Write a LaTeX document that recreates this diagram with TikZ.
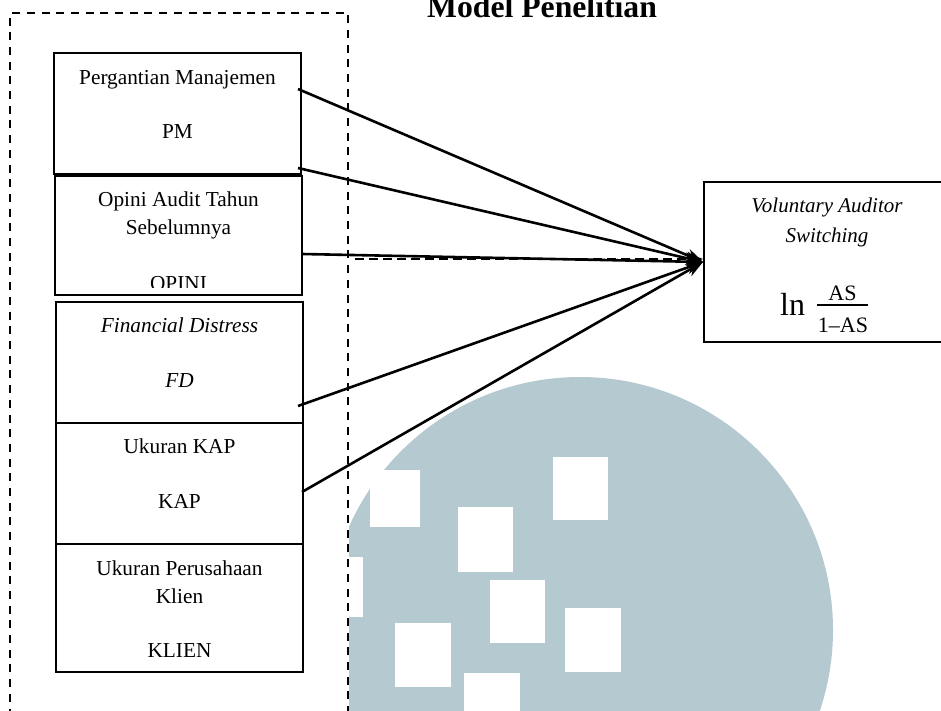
\documentclass[tikz,border=0pt]{standalone}
\usepackage{fontspec}
\setmainfont{Liberation Serif}
\usetikzlibrary{arrows.meta,calc}
\definecolor{wm}{RGB}{181,201,209}
\begin{document}
\begin{tikzpicture}[x=1pt,y=-1pt,
  txt/.style={font=\fontsize{21.3}{27}\selectfont, inner sep=0pt, anchor=base},
  itxt/.style={txt, font=\fontsize{21.3}{27}\selectfont\itshape},
  vtxt/.style={txt, font=\fontsize{21}{27}\selectfont\itshape},
  ftxt/.style={txt, font=\fontsize{22}{27}\selectfont},
  varbox/.style={draw, line width=2pt, minimum width=247pt, inner sep=0pt},
  grpbox/.style={draw, dash pattern=on 8pt off 6.7pt, line width=1.8pt, inner sep=0pt},
  conn/.style={line width=2.6pt, -{Stealth[length=17pt,width=13pt]}},
  dconn/.style={line width=2.4pt, dash pattern=on 9pt off 5pt, -{Stealth[length=17pt,width=13pt]}},
]
\useasboundingbox (0,0) rectangle (941,711);
% watermark
\begin{scope}
  \clip (349,0) rectangle (941,711);
  \fill[wm] (580,630) circle[radius=253];
\end{scope}
\fill[white] (370,470) rectangle (420,527);
\fill[white] (349,557) rectangle (363,617);
\fill[white] (553,457) rectangle (608,520);
\fill[white] (458,507) rectangle (513,572);
\fill[white] (490,580) rectangle (545,643);
\fill[white] (565,608) rectangle (621,672);
\fill[white] (395,623) rectangle (451,687);
\fill[white] (464,673) rectangle (520,720);
% title
\node[txt, font=\fontsize{31.7}{36}\selectfont\bfseries] (title) at (542,18) {Model Penelitian};
% group frame
\node[grpbox, minimum width=338pt, minimum height=760pt] (grp) at (179,393) {};
% variable boxes
\node[varbox, minimum height=121pt] (pm) at (177.5,113.5) {};
\node[varbox, minimum height=119pt] (opini) at (178.5,235.5) {};
\node[varbox, minimum height=121pt] (fd) at (179.5,362.5) {};
\node[varbox, minimum height=121pt] (kap) at (179.5,483.5) {};
\node[varbox, minimum height=128pt] (klien) at (179.5,608) {};
\node[varbox, minimum width=246pt, minimum height=160pt] (vas) at (827,262) {};
% texts
\node[txt] (t1a) at (177.5,85) {Pergantian Manajemen};
\node[txt] (t1b) at (177.5,139) {PM};
\node[txt] (t2a) at (178.5,207) {Opini Audit Tahun};
\node[txt] (t2b) at (178.5,234) {Sebelumnya};
\begin{scope}
  \clip (56,177) rectangle (301,287);
  \node[txt] (t2c) at (178.5,290) {OPINI};
\end{scope}
\node[itxt] (t3a) at (179.5,332) {Financial Distress};
\node[itxt] (t3b) at (179.5,387) {FD};
\node[txt] (t4a) at (179.5,453) {Ukuran KAP};
\node[txt] (t4b) at (179.5,508) {KAP};
\node[txt] (t5a) at (179.5,575) {Ukuran Perusahaan};
\node[txt] (t5b) at (179.5,603) {Klien};
\node[txt] (t5c) at (179.5,657) {KLIEN};
\node[vtxt] (t6a) at (827,212) {Voluntary Auditor};
\node[vtxt] (t6b) at (827,243) {Switching};
\node[txt, anchor=base west, font=\fontsize{32}{36}\selectfont] (ln) at (780,315) {ln};
\node[ftxt] (num) at (842.5,300) {AS};
\node[ftxt] (den) at (843,332) {1–AS};
\draw[line width=2.5pt] (817,305) -- (868,305);
% connectors
\coordinate (s1) at (298,89);
\coordinate (s2) at (298,168);
\coordinate (s3) at (302,254);
\coordinate (s4) at (298,406);
\coordinate (s5) at (302,492);
\coordinate (d0) at (355,259);
\coordinate (d1) at ($(vas.west)+(0,-3)$);
\draw[dconn] (d0) -- (d1);
\draw[conn] (s1) -- (vas.west);
\draw[conn] (s2) -- (vas.west);
\draw[conn] (s3) -- (vas.west);
\draw[conn] (s4) -- (vas.west);
\draw[conn] (s5) -- (vas.west);
\end{tikzpicture}
\end{document}
